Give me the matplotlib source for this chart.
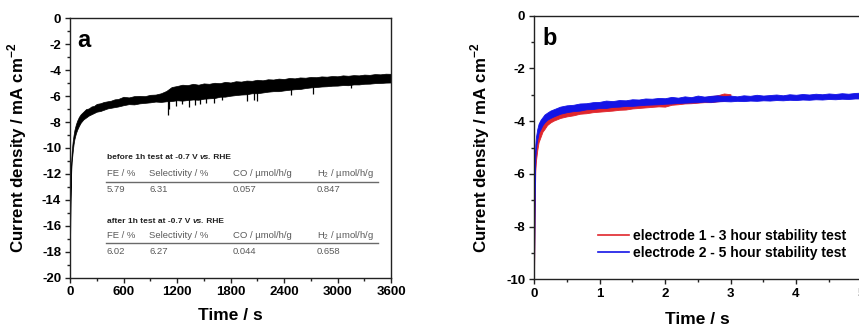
import matplotlib
matplotlib.use("Agg")
import matplotlib.pyplot as plt
from matplotlib.ticker import MultipleLocator

plt.rcParams['font.family'] = ['Liberation Sans', 'DejaVu Sans']
plt.rcParams['axes.unicode_minus'] = False

# ---------------- panel a: 1 h chronoamperometry at -0.7 V vs. RHE ----------------
time_a = [0, 3, 6, 10, 15, 20, 30, 40, 50, 65, 80, 100, 120, 150, 180, 210, 240, 270,
          300, 340, 380, 420, 460, 500, 540,
          600, 660, 720, 780, 840, 900, 960, 1020, 1080, 1140, 1200, 1260, 1320, 1380,
          1440, 1500, 1560, 1620, 1680, 1740, 1800, 1860, 1920, 1980, 2040, 2100, 2160,
          2220, 2280, 2340, 2400, 2460, 2520, 2580, 2640, 2700, 2760, 2820, 2880, 2940,
          3000, 3060, 3120, 3180, 3240, 3300, 3360, 3420, 3480, 3540, 3600]
j_a_upper = [-17.2, -14.5, -12.8, -11.6, -10.8, -10.2, -9.5, -9.0, -8.6, -8.2, -7.9, -7.6,
             -7.4, -7.2, -7.0, -6.95, -6.8, -6.75, -6.6, -6.55, -6.45, -6.4, -6.35, -6.25,
             -6.22,
             -6.05, -6.1, -6.0, -5.98, -6.0, -5.9, -5.88, -5.78, -5.6, -5.3, -5.22, -5.12,
             -5.15, -5.05, -5.12, -5.02, -5.05, -4.97, -5.0, -4.9, -4.95, -4.85, -4.88,
             -4.8, -4.82, -4.74, -4.78, -4.7, -4.72, -4.65, -4.68, -4.6, -4.63, -4.56,
             -4.58, -4.52, -4.54, -4.48, -4.5, -4.45, -4.47, -4.4, -4.43, -4.38, -4.4,
             -4.34, -4.36, -4.3, -4.32, -4.27, -4.28]
j_a_lower = [-17.6, -16.0, -14.0, -12.6, -11.6, -11.0, -10.3, -9.7, -9.3, -8.9, -8.6, -8.3,
             -8.05, -7.8, -7.65, -7.5, -7.4, -7.3, -7.2, -7.15, -7.05, -6.95, -6.9, -6.85,
             -6.8,
             -6.7, -6.62, -6.64, -6.56, -6.52, -6.48, -6.42, -6.45, -6.4, -6.38, -6.32,
             -6.35, -6.3, -6.26, -6.28, -6.2, -6.17, -6.15, -6.05, -6.04, -5.97, -5.92,
             -5.88, -5.86, -5.78, -5.78, -5.72, -5.66, -5.62, -5.62, -5.56, -5.51, -5.47,
             -5.45, -5.38, -5.33, -5.3, -5.26, -5.24, -5.2, -5.19, -5.15, -5.16, -5.1,
             -5.1, -5.05, -5.04, -5.0, -4.99, -4.96, -4.95]

# downward current spikes
spike_t = [1100, 1115, 1190, 1255, 1330, 1400, 1460, 1520, 1610, 1700, 1990, 2060, 2100,
           2480, 2720, 3150]
spike_lo = [-7.45, -7.0, -6.75, -6.6, -6.85, -6.7, -6.6, -6.55, -6.5, -6.3, -6.35, -6.3,
            -6.35, -5.95, -5.8, -5.4]
spike_hi = [-6.2, -6.2, -6.1, -6.1, -6.1, -6.0, -6.0, -5.9, -5.9, -5.8, -5.6, -5.5, -5.5,
            -5.2, -5.0, -4.8]

table_cols = ["FE / %", "Selectivity / %", "CO / µmol/h/g", "H$_\\mathregular{2}$ / µmol/h/g"]
before_vals = ["5.79", "6.31", "0.057", "0.847"]
after_vals = ["6.02", "6.27", "0.044", "0.658"]

# ---------------- panel b: long-term stability of two electrodes ----------------
time_b1 = [0, 0.005, 0.01, 0.02, 0.03, 0.05, 0.07, 0.1, 0.13, 0.16, 0.2, 0.25, 0.3,
           0.4, 0.5, 0.6, 0.7, 0.8, 0.9, 1.0, 1.1, 1.2, 1.3, 1.4, 1.5, 1.6, 1.7, 1.8,
           1.9, 2.0, 2.1, 2.2, 2.3, 2.4, 2.5, 2.6, 2.7, 2.8, 2.9, 3.0]
j_b1_upper = [-9.9, -7.6, -6.2, -5.3, -4.95, -4.6, -4.4, -4.2, -4.05, -3.95, -3.85, -3.75,
              -3.7, -3.6, -3.55, -3.5, -3.48, -3.42, -3.42, -3.38, -3.36, -3.33, -3.33,
              -3.28, -3.29, -3.25, -3.24, -3.22, -3.2, -3.18, -3.17, -3.15, -3.12, -3.12,
              -3.08, -3.1, -3.05, -3.02, -2.95, -2.98]
j_b1_lower = [-10.0, -8.6, -7.2, -5.9, -5.5, -5.1, -4.8, -4.6, -4.4, -4.3, -4.15, -4.05,
              -3.98, -3.88, -3.82, -3.78, -3.72, -3.7, -3.66, -3.64, -3.62, -3.6, -3.57,
              -3.56, -3.52, -3.5, -3.48, -3.46, -3.44, -3.45, -3.38, -3.36, -3.33, -3.32,
              -3.3, -3.28, -3.28, -3.25, -3.22, -3.2]

time_b2 = [0, 0.005, 0.01, 0.02, 0.03, 0.05, 0.07, 0.1, 0.13, 0.16, 0.2, 0.25, 0.3,
           0.4, 0.5, 0.6, 0.7, 0.8, 0.9, 1.0, 1.1, 1.2, 1.3, 1.4, 1.5, 1.6, 1.7, 1.8,
           1.9, 2.0, 2.1, 2.2, 2.3, 2.4, 2.5, 2.6, 2.7, 2.8, 2.9, 3.0, 3.1, 3.2, 3.3,
           3.4, 3.5, 3.6, 3.7, 3.8, 3.9, 4.0, 4.1, 4.2, 4.3, 4.4, 4.5, 4.6, 4.7, 4.8,
           4.9, 5.0]
j_b2_upper = [-9.9, -7.0, -5.6, -4.9, -4.6, -4.3, -4.1, -3.95, -3.85, -3.75, -3.68, -3.6,
              -3.55, -3.45, -3.4, -3.38, -3.33, -3.32, -3.28, -3.27, -3.22, -3.24, -3.2,
              -3.21, -3.17, -3.18, -3.14, -3.15, -3.12, -3.13, -3.08, -3.11, -3.06, -3.09,
              -3.03, -3.07, -3.04, -3.02, -3.05, -3.03, -3.06, -3.02, -3.04, -3.0, -3.03,
              -3.01, -2.99, -3.02, -2.98, -3.0, -2.97, -2.99, -2.96, -2.98, -2.95, -2.97,
              -2.94, -2.96, -2.93, -2.92]
j_b2_lower = [-10.0, -8.0, -6.4, -5.4, -5.0, -4.7, -4.45, -4.3, -4.15, -4.05, -3.95, -3.88,
              -3.82, -3.72, -3.66, -3.62, -3.6, -3.55, -3.54, -3.5, -3.5, -3.46, -3.45,
              -3.42, -3.42, -3.4, -3.38, -3.37, -3.36, -3.34, -3.33, -3.31, -3.3, -3.29,
              -3.28, -3.26, -3.27, -3.25, -3.24, -3.25, -3.23, -3.24, -3.22, -3.23, -3.21,
              -3.22, -3.2, -3.21, -3.19, -3.2, -3.18, -3.19, -3.17, -3.18, -3.16, -3.17,
              -3.15, -3.16, -3.14, -3.14]

legend_labels = ["electrode 1 - 3 hour stability test", "electrode 2 - 5 hour stability test"]
red = "#e0262c"
blue = "#1414e6"

fig = plt.figure(figsize=(8.59, 3.26), dpi=100)
ax_a = fig.add_axes([70 / 859, 1 - 277.7 / 326, 321 / 859, 259.4 / 326])
ax_b = fig.add_axes([534 / 859, 1 - 279.3 / 326, 327.5 / 859, 263.6 / 326])


def style_axis(ax):
    for sp in ax.spines.values():
        sp.set_linewidth(1.0)
        sp.set_color("#222222")
    ax.tick_params(which="both", direction="out", top=False, right=False,
                   width=1.0, color="#222222")
    ax.tick_params(which="major", length=3.8, pad=2.5, labelsize=9.5)
    ax.tick_params(which="minor", length=2.2)
    for lab in ax.get_xticklabels() + ax.get_yticklabels():
        lab.set_fontweight("bold")


# ---- panel a ----
ax_a.fill_between(time_a, j_a_lower, j_a_upper, color="black", linewidth=0.5,
                  edgecolor="black")
ax_a.vlines(spike_t, spike_lo, spike_hi, color="black", linewidth=0.9)
ax_a.set_xlim(0, 3600)
ax_a.set_ylim(-20, 0)
ax_a.xaxis.set_major_locator(MultipleLocator(600))
ax_a.xaxis.set_minor_locator(MultipleLocator(300))
ax_a.yaxis.set_major_locator(MultipleLocator(2))
ax_a.yaxis.set_minor_locator(MultipleLocator(1))
style_axis(ax_a)
ax_a.set_xlabel("Time / s", fontsize=12.5, fontweight="bold")
ax_a.set_ylabel("Current density / mA cm$^{\\mathregular{-2}}$", fontsize=12.2,
                fontweight="bold")
ax_a.xaxis.set_label_coords(0.5, -0.118)
ax_a.yaxis.set_label_coords(-0.129, 0.5)
ax_a.text(0.023, 0.8905, "a", transform=ax_a.transAxes, fontsize=17, fontweight="bold",
          va="baseline", ha="left")

# product analysis table
col_x = [0.114, 0.247, 0.507, 0.769]
grey = "#5a5a5a"


def table_block(title_y, head_y, rule_y, val_y, when, values):
    t1 = ax_a.text(col_x[0], title_y, when + " 1h test at -0.7 V ", transform=ax_a.transAxes,
                   fontsize=6.0, fontweight="bold", color="#222222", va="bottom", ha="left")
    t2 = ax_a.annotate("vs.", xy=(1, 0), xycoords=t1, fontsize=6.0, fontweight="bold",
                       fontstyle="italic", color="#222222", va="bottom", ha="left")
    ax_a.annotate(" RHE", xy=(1, 0), xycoords=t2, fontsize=6.0, fontweight="bold",
                  color="#222222", va="bottom", ha="left")
    for x, h, v in zip(col_x, table_cols, values):
        ax_a.text(x, head_y, h, transform=ax_a.transAxes, fontsize=6.8, color=grey,
                  va="center", ha="left")
        ax_a.text(x, val_y, v, transform=ax_a.transAxes, fontsize=6.8, color=grey,
                  va="center", ha="left")
    ax_a.plot([0.112, 0.96], [rule_y, rule_y], transform=ax_a.transAxes, color="#6a6a6a",
              linewidth=1.0)


table_block(0.448, 0.4025, 0.370, 0.341, "before", before_vals)
table_block(0.204, 0.162, 0.1326, 0.100, "after", after_vals)

# ---- panel b ----
ax_b.fill_between(time_b1, j_b1_lower, j_b1_upper, color=red, linewidth=0.6,
                  edgecolor=red, label=legend_labels[0])
ax_b.fill_between(time_b2, j_b2_lower, j_b2_upper, color=blue, linewidth=0.6,
                  edgecolor=blue, label=legend_labels[1])
ax_b.set_xlim(0, 5)
ax_b.set_ylim(-10, 0)
ax_b.xaxis.set_major_locator(MultipleLocator(1))
ax_b.xaxis.set_minor_locator(MultipleLocator(0.5))
ax_b.yaxis.set_major_locator(MultipleLocator(2))
ax_b.yaxis.set_minor_locator(MultipleLocator(1))
style_axis(ax_b)
ax_b.set_xlabel("Time / s", fontsize=12.5, fontweight="bold")
ax_b.set_ylabel("Current density / mA cm$^{\\mathregular{-2}}$", fontsize=12.2,
                fontweight="bold")
ax_b.xaxis.set_label_coords(0.5, -0.125)
ax_b.yaxis.set_label_coords(-0.129, 0.5)
ax_b.text(0.0266, 0.889, "b", transform=ax_b.transAxes, fontsize=17, fontweight="bold",
          va="baseline", ha="left")

handles = [plt.Line2D([], [], color=red, linewidth=1.2),
           plt.Line2D([], [], color=blue, linewidth=1.2)]
ax_b.legend(handles, legend_labels, loc="upper left", bbox_to_anchor=(0.195, 0.19),
            frameon=False, prop={"weight": "bold", "size": 10}, handlelength=2.25,
            handletextpad=0.3, labelspacing=0.2, borderpad=0, borderaxespad=0)

fig.savefig("out.png", dpi=100)
